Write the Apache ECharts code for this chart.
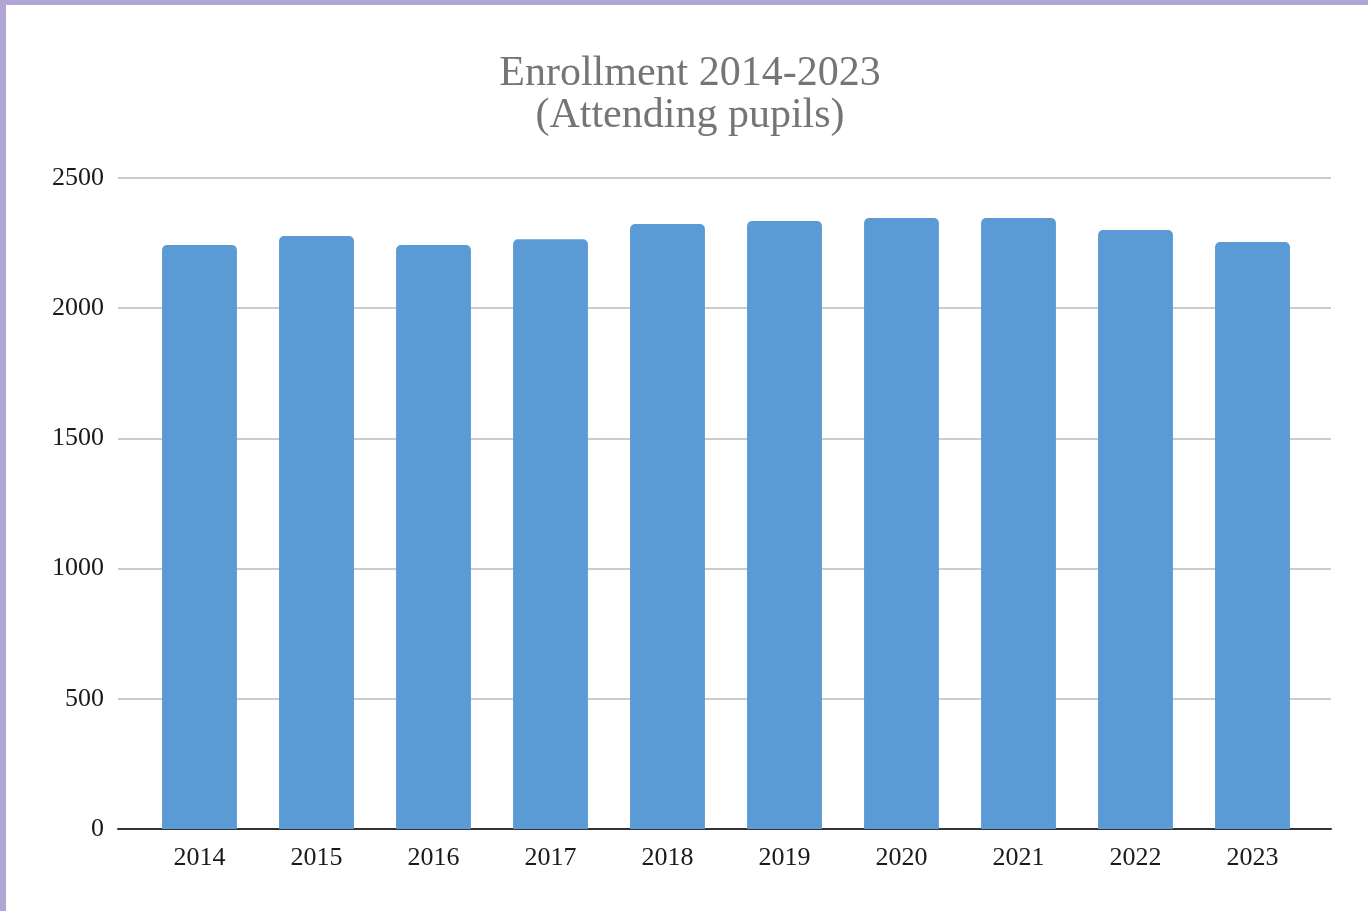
<!DOCTYPE html>
<html>
<head>
<meta charset="utf-8">
<title>Enrollment 2014-2023</title>
<script src="https://cdn.jsdelivr.net/npm/echarts@6/dist/echarts.min.js"></script>
<style>
  html, body { margin: 0; padding: 0; background: #ffffff; }
  #frame {
    position: absolute; left: 0; top: 0; width: 1368px; height: 911px;
    box-sizing: border-box; border-left: 6px solid #b1a5d6; border-top: 5px solid #b1a5d6;
  }
  #chart { position: absolute; left: 0; top: 0; width: 1368px; height: 911px; }
</style>
</head>
<body>
<div id="frame"></div>
<div id="chart"></div>
<script>
// Attending pupils per school year
const years = ['2014', '2015', '2016', '2017', '2018', '2019', '2020', '2021', '2022', '2023'];
const pupils = [2243, 2277, 2243, 2265, 2323, 2335, 2346, 2346, 2300, 2254];
const yTicks = { min: 0, max: 2500, interval: 500 };

const serif = '"Liberation Serif", "DejaVu Serif", serif';
const chart = echarts.init(document.getElementById('chart'), null, { renderer: 'canvas' });

chart.setOption({
  backgroundColor: 'transparent',
  animation: false,
  title: {
    text: 'Enrollment 2014-2023\n(Attending pupils)',
    left: 685,
    top: 48,
    textAlign: 'center',
    textStyle: {
      fontFamily: serif, fontSize: 42, fontWeight: 'normal',
      color: '#757575', lineHeight: 42
    }
  },
  grid: [
    // frame grid: gridlines and baseline span the full plot width
    { left: 118, right: 37, top: 178, bottom: 82 },
    // bar grid: categories sit inside the frame
    { left: 141, right: 57, top: 178, bottom: 82 }
  ],
  xAxis: [
    {
      gridIndex: 0, type: 'category', data: [''],
      axisLine: { show: true, lineStyle: { color: '#333333', width: 2 } },
      axisTick: { show: false }, axisLabel: { show: false }, splitLine: { show: false }
    },
    {
      gridIndex: 1, type: 'category', data: years,
      axisLine: { show: false }, axisTick: { show: false },
      axisLabel: { fontFamily: serif, fontSize: 26, color: '#1a1a1a', margin: 16 }
    }
  ],
  yAxis: [
    {
      gridIndex: 0, type: 'value', min: yTicks.min, max: yTicks.max, interval: yTicks.interval,
      axisLine: { show: false }, axisTick: { show: false },
      axisLabel: {
        fontFamily: serif, fontSize: 26, color: '#1a1a1a', margin: 14,
        formatter: (v) => String(v)
      },
      splitLine: { lineStyle: { color: '#cccccc', width: 2 } }
    },
    {
      gridIndex: 1, type: 'value', min: yTicks.min, max: yTicks.max, interval: yTicks.interval,
      show: false, splitLine: { show: false }
    }
  ],
  series: [
    {
      type: 'bar', xAxisIndex: 1, yAxisIndex: 1,
      data: pupils,
      barCategoryGap: '36%',
      itemStyle: { color: '#5b9bd5', borderRadius: [5, 5, 0, 0] }
    }
  ]
});
</script>
</body>
</html>
